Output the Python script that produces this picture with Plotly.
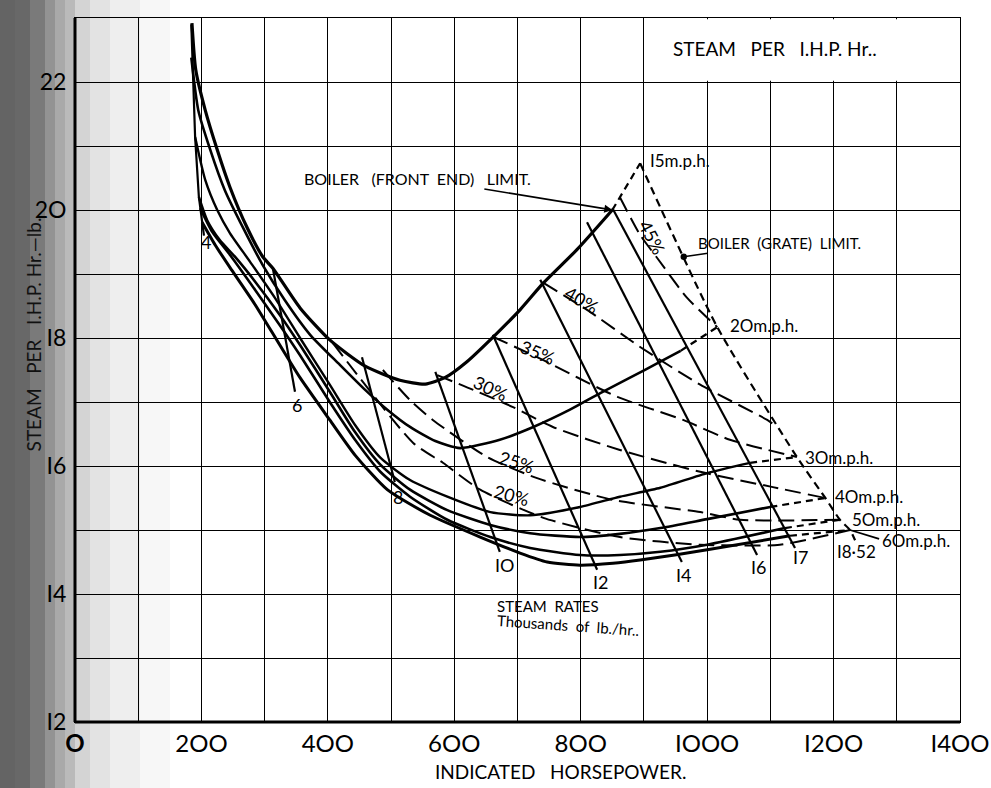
import plotly.graph_objects as go

# ---------------- data (HP, steam per IHP hr) ----------------
# constant-speed curves: solid within front-end limit, dashed to grate limit
mph15_hp = [185, 191, 206, 225, 245, 272, 297, 313, 356, 403, 459, 514, 554, 585, 620, 665, 704, 741, 794, 850]
mph15_s = [22.92, 22.19, 21.56, 20.94, 20.36, 19.73, 19.27, 19.09, 18.47, 17.97, 17.56, 17.34, 17.28, 17.38, 17.63, 18.05, 18.44, 18.86, 19.38, 20.0]
mph15_ext_hp = [850, 894]
mph15_ext_s = [20.0, 20.73]

mph20_hp = [184, 195, 214, 237, 266, 297, 332, 372, 419, 459, 494, 530, 570, 609, 672, 725, 783, 831, 878, 926, 958]
mph20_s = [22.38, 21.56, 20.94, 20.31, 19.72, 19.14, 18.59, 18.05, 17.58, 17.19, 16.88, 16.61, 16.39, 16.28, 16.41, 16.61, 16.88, 17.14, 17.38, 17.63, 17.8]
mph20_ext_hp = [958, 1016]
mph20_ext_s = [17.8, 18.17]

mph30_hp = [190, 206, 225, 245, 277, 316, 356, 403, 443, 483, 530, 589, 657, 720, 799, 862, 926, 1000, 1068]
mph30_s = [21.14, 20.47, 20.0, 19.64, 19.19, 18.63, 18.0, 17.27, 16.64, 16.13, 15.78, 15.52, 15.28, 15.23, 15.36, 15.52, 15.66, 15.89, 16.05]
mph30_ext_hp = [1068, 1142]
mph30_ext_s = [16.05, 16.14]

mph40_hp = [196, 209, 229, 253, 285, 324, 356, 403, 443, 483, 530, 589, 657, 720, 799, 862, 926, 1000, 1100]
mph40_s = [20.2, 19.84, 19.53, 19.27, 18.88, 18.36, 17.89, 17.16, 16.53, 16.02, 15.63, 15.31, 15.08, 14.95, 14.89, 14.94, 15.03, 15.17, 15.36]
mph40_ext_hp = [1100, 1187]
mph40_ext_s = [15.36, 15.5]

mph50_hp = [198, 217, 245, 285, 324, 356, 403, 443, 483, 530, 589, 657, 720, 799, 862, 926, 1000, 1123]
mph50_s = [20.03, 19.66, 19.3, 18.75, 18.2, 17.73, 17.0, 16.41, 15.91, 15.52, 15.16, 14.89, 14.72, 14.61, 14.61, 14.66, 14.77, 15.03]
mph50_ext_hp = [1123, 1210]
mph50_ext_s = [15.03, 15.16]

mph60_hp = [201, 222, 248, 285, 324, 356, 403, 443, 494, 562, 641, 704, 747, 799, 851, 894, 1000, 1131]
mph60_s = [19.81, 19.45, 19.06, 18.52, 17.89, 17.38, 16.72, 16.17, 15.63, 15.23, 14.89, 14.64, 14.5, 14.45, 14.48, 14.53, 14.69, 14.91]
mph60_ext_hp = [1131, 1226]
mph60_ext_s = [14.91, 15.0]
mph60_leader_hp = [1226, 1272]
mph60_leader_s = [15.0, 14.86]

# constant cut-off lines (%)
cut45_hp = [862, 894, 921, 968, 1016]
cut45_s = [20.2, 19.61, 19.25, 18.63, 18.17]
cut40_hp = [741, 810, 894, 989, 1095, 1111]
cut40_s = [18.86, 18.44, 17.86, 17.27, 16.72, 16.61]
cut35_hp = [661, 731, 858, 962, 1036, 1142]
cut35_s = [18.02, 17.70, 17.08, 16.72, 16.41, 16.14]
cut30_hp = [573, 630, 693, 756, 862, 989, 1104, 1187]
cut30_s = [17.42, 17.19, 16.92, 16.61, 16.25, 15.91, 15.67, 15.5]
cut25_hp = [487, 530, 566, 652, 731, 851, 989, 1052, 1210]
cut25_s = [17.5, 17.03, 16.72, 16.14, 15.81, 15.47, 15.28, 15.16, 15.16]
cut20_hp = [408, 535, 582, 641, 741, 862, 989, 1115, 1226]
cut20_s = [17.92, 16.36, 16.05, 15.63, 15.19, 14.89, 14.77, 14.77, 15.0]

# constant steam-rate lines (thousands lb/hr)
sr4_hp = [184, 186, 190, 196, 204]
sr4_s = [22.9, 22.38, 21.14, 20.2, 19.6]
sr6_hp = [313, 348]
sr6_s = [19.09, 17.16]
sr8_hp = [454, 506]
sr8_s = [17.70, 15.75]
sr10_hp = [570, 672]
sr10_s = [17.47, 14.66]
sr12_hp = [661, 826]
sr12_s = [18.05, 14.38]
sr14_hp = [736, 960]
sr14_s = [18.91, 14.5]
sr16_hp = [810, 1079]
sr16_s = [19.81, 14.61]
sr17_hp = [850, 1139]          # boiler (front end) limit
sr17_s = [20.03, 14.72]
sr1852_hp = [894, 1016, 1142, 1187, 1210, 1226, 1234]   # boiler (grate) limit
sr1852_s = [20.73, 18.17, 16.14, 15.5, 15.16, 15.0, 14.84]

steam_labels = ["4", "6", "8", "IO", "I2", "I4", "I6", "I7"]
steam_label_hp = [207, 351, 511, 680, 831, 962, 1081, 1147]
steam_label_s = [19.5, 16.95, 15.52, 14.45, 14.19, 14.3, 14.42, 14.58]

mph_labels = ["I5m.p.h.", "2Om.p.h.", "3Om.p.h.", "4Om.p.h.", "5Om.p.h.", "6Om.p.h."]
mph_label_hp = [907, 1033, 1152, 1199, 1226, 1274]
mph_label_s = [20.78, 18.2, 16.14, 15.52, 15.16, 14.84]

cut_labels = ["45%", "40%", "35%", "30%", "25%", "20%"]
cut_label_hp = [913, 802, 731, 657, 699, 690]
cut_label_s = [19.58, 18.59, 17.78, 17.22, 16.06, 15.55]
cut_label_angle = [62, 30, 22, 25, 18, 15]

x_ticks = [0, 200, 400, 600, 800, 1000, 1200, 1400]
x_ticktext = ["<b>O</b>", "2OO", "4OO", "6OO", "8OO", "IOOO", "I2OO", "I4OO"]
y_ticks = [12, 14, 16, 18, 20, 22]
y_ticktext = ["I2", "I4", "I6", "I8", "2O", "22"]

FONT = "Lato"
fig = go.Figure()


def line(xs, ys, width=2.2, dash="solid"):
    fig.add_trace(go.Scatter(x=xs, y=ys, mode="lines", hoverinfo="skip",
                             line=dict(color="black", width=width, dash=dash,
                                       shape="spline", smoothing=0.6),
                             showlegend=False))


def straight(xs, ys, width=2.0, dash="solid"):
    fig.add_trace(go.Scatter(x=xs, y=ys, mode="lines", hoverinfo="skip",
                             line=dict(color="black", width=width, dash=dash),
                             showlegend=False))


ext_dash = "7px,5px"
line(mph15_hp, mph15_s, 3.2)
straight(mph15_ext_hp, mph15_ext_s, 2.2, ext_dash)
line(mph20_hp, mph20_s, 2.6)
straight(mph20_ext_hp, mph20_ext_s, 2.2, ext_dash)
line(mph30_hp, mph30_s, 2.4)
straight(mph30_ext_hp, mph30_ext_s, 2.2, ext_dash)
line(mph40_hp, mph40_s, 2.6)
straight(mph40_ext_hp, mph40_ext_s, 2.2, ext_dash)
line(mph50_hp, mph50_s, 2.6)
straight(mph50_ext_hp, mph50_ext_s, 2.2, ext_dash)
line(mph60_hp, mph60_s, 3.0)
straight(mph60_ext_hp, mph60_ext_s, 2.2, ext_dash)
straight(mph60_leader_hp, mph60_leader_s, 1.8)

cut_dash = "16px,7px"
for hx, sy in [(cut45_hp, cut45_s), (cut40_hp, cut40_s), (cut35_hp, cut35_s),
               (cut30_hp, cut30_s), (cut25_hp, cut25_s), (cut20_hp, cut20_s)]:
    line(hx, sy, 2.0, cut_dash)

for hx, sy in [(sr4_hp, sr4_s), (sr6_hp, sr6_s), (sr8_hp, sr8_s), (sr10_hp, sr10_s),
               (sr12_hp, sr12_s), (sr14_hp, sr14_s), (sr16_hp, sr16_s), (sr17_hp, sr17_s)]:
    straight(hx, sy, 2.2)
line(sr1852_hp, sr1852_s, 2.2, "8px,5px")

ann = []
for t, hx, sy in zip(steam_labels, steam_label_hp, steam_label_s):
    ann.append(dict(x=hx, y=sy, text=t, showarrow=False,
                    font=dict(family=FONT, size=18, color="black")))
ann.append(dict(x=1237, y=14.66, text="I8·52", showarrow=False,
                font=dict(family=FONT, size=17, color="black")))
for t, hx, sy in zip(mph_labels, mph_label_hp, mph_label_s):
    ann.append(dict(x=hx, y=sy, text=t, showarrow=False, xanchor="left",
                    font=dict(family=FONT, size=17, color="black")))
for t, hx, sy, a in zip(cut_labels, cut_label_hp, cut_label_s, cut_label_angle):
    ann.append(dict(x=hx, y=sy, text=t, showarrow=False, textangle=a,
                    font=dict(family=FONT, size=18, color="black")))

ann.append(dict(x=850, y=20.0, ax=-195, ay=-32, text="BOILER   (FRONT  END)   LIMIT.",
                showarrow=True, arrowhead=2, arrowsize=1, arrowwidth=1.6, arrowcolor="black",
                font=dict(family=FONT, size=16, color="black")))
ann.append(dict(x=963, y=19.27, ax=96, ay=-14, text="BOILER  (GRATE)  LIMIT.",
                showarrow=True, arrowhead=6, arrowsize=1, arrowwidth=1.6, arrowcolor="black",
                font=dict(family=FONT, size=15, color="black")))
ann.append(dict(x=1108, y=22.53, text="STEAM   PER   I.H.P. Hr..", showarrow=False,
                font=dict(family=FONT, size=19, color="black")))
ann.append(dict(x=748, y=13.82, text="STEAM  RATES", showarrow=False,
                font=dict(family=FONT, size=15, color="black")))
ann.append(dict(x=780, y=13.52, text="Thousands  of  lb./hr..", showarrow=False, textangle=4,
                font=dict(family=FONT, size=15, color="black")))
ann.append(dict(xref="paper", yref="paper", x=0.549, y=-0.071, text="INDICATED   HORSEPOWER.",
                showarrow=False, yanchor="middle",
                font=dict(family=FONT, size=19, color="black")))
ann.append(dict(xref="paper", yref="paper", x=-0.062, y=0.55, text="STEAM   PER   I.H.P. Hr.\u2014lb.",
                showarrow=False, textangle=-90,
                font=dict(family=FONT, size=19, color="#111")))

shapes = []
# scanner shadow on the left edge (columns in page pixels with their darkness)
shade_cols = [(0, 15, 0.72), (15, 30, 0.70), (30, 45, 0.62), (45, 55, 0.50), (55, 65, 0.40),
              (65, 75, 0.32), (75, 90, 0.20), (90, 110, 0.13), (110, 140, 0.08), (140, 170, 0.04)]
for a, b, d in shade_cols:
    shapes.append(dict(type="rect", xref="paper", yref="paper", layer="below",
                       x0=(a - 75) / 885.0, x1=(b - 75) / 885.0, y0=-0.12, y1=1.03,
                       fillcolor="rgba(40,40,40,%.2f)" % d, line=dict(width=0)))
# title box region (no vertical grid lines)
shapes.append(dict(type="rect", xref="x", yref="y", layer="between",
                   x0=903, x1=1397, y0=22.02, y1=22.98,
                   fillcolor="white", line=dict(width=0)))
# heavy axes
shapes.append(dict(type="line", xref="paper", yref="paper", x0=0, x1=0, y0=0, y1=1,
                   line=dict(color="black", width=3)))
shapes.append(dict(type="line", xref="paper", yref="paper", x0=0, x1=1, y0=0, y1=0,
                   line=dict(color="black", width=3)))

fig.update_layout(
    width=991, height=788,
    margin=dict(l=75, r=31, t=18, b=66, autoexpand=False),
    paper_bgcolor="white", plot_bgcolor="rgba(0,0,0,0)",
    annotations=ann, shapes=shapes, showlegend=False,
    xaxis=dict(range=[0, 1400], tickvals=x_ticks, ticktext=x_ticktext, automargin=False,
               showgrid=True, gridcolor="black", gridwidth=1,
               minor=dict(dtick=100, showgrid=True, gridcolor="black", gridwidth=1),
               showline=True, mirror=True, linecolor="black", linewidth=1,
               ticks="", zeroline=False, ticklabelstandoff=0,
               tickfont=dict(family=FONT, size=24, color="black")),
    yaxis=dict(range=[12, 23], tickvals=y_ticks, ticktext=y_ticktext, automargin=False,
               showgrid=True, gridcolor="black", gridwidth=1,
               minor=dict(dtick=1, showgrid=True, gridcolor="black", gridwidth=1),
               showline=True, mirror=True, linecolor="black", linewidth=1,
               ticks="", zeroline=False, ticklabelstandoff=3,
               tickfont=dict(family=FONT, size=23, color="black")),
)
fig.write_html("out.html")
